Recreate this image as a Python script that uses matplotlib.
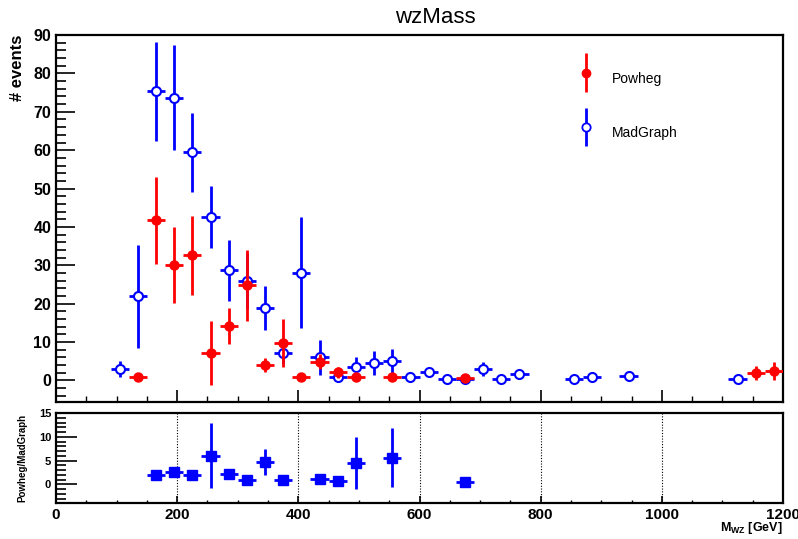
#!/usr/bin/env python3
import numpy as np
import matplotlib
matplotlib.use('Agg')
import matplotlib.pyplot as plt
from matplotlib.ticker import MultipleLocator
from matplotlib.container import ErrorbarContainer
from matplotlib.legend_handler import HandlerErrorbar

plt.rcParams['font.family'] = ['Liberation Sans', 'DejaVu Sans']
plt.rcParams['mathtext.fontset'] = 'custom'
plt.rcParams['mathtext.rm'] = 'Liberation Sans'
plt.rcParams['mathtext.bf'] = 'Liberation Sans:bold'

# bin half width (GeV)
half_bin = 15

pow_x = [135, 165, 195, 225, 255, 285, 315, 345, 375, 405, 435, 465, 495, 555, 675, 1155, 1185]
pow_y = [1.0, 41.7, 30.1, 32.6, 7.2, 14.3, 24.8, 4.0, 9.7, 0.9, 4.9, 2.1, 0.9, 0.9, 0.7, 2.0, 2.5]
pow_err = [0.3, 11.3, 10.0, 10.2, 8.4, 4.7, 9.2, 1.9, 6.3, 0.3, 2.0, 1.5, 0.3, 0.3, 0.8, 1.9, 2.3]

mg_x = [105, 135, 165, 195, 225, 255, 285, 315, 345, 375, 405, 435, 465, 495, 525, 555,
        585, 615, 645, 675, 705, 735, 765, 855, 885, 945, 1125]
mg_y = [3.0, 21.9, 75.4, 73.7, 59.5, 42.6, 28.7, 26.0, 18.8, 7.1, 28.1, 6.0, 1.0, 3.6, 4.6, 5.1,
        0.8, 2.2, 0.5, 0.4, 3.0, 0.3, 1.7, 0.3, 0.8, 1.1, 0.4]
mg_err = [2.1, 13.5, 12.9, 13.7, 10.3, 8.0, 8.0, 7.3, 5.7, 2.9, 14.4, 4.6, 0.8, 2.6, 3.1, 3.1,
          0.3, 1.0, 0.3, 0.3, 1.8, 0.2, 0.8, 0.2, 0.4, 0.5, 0.3]

ratio_x = [165, 195, 225, 255, 285, 315, 345, 375, 435, 465, 495, 555, 675]
ratio_y = [1.9, 2.6, 1.9, 6.0, 2.1, 1.0, 4.7, 0.9, 1.2, 0.75, 4.5, 5.6, 0.5]
ratio_err = [0.4, 0.6, 0.4, 6.8, 0.5, 0.4, 2.8, 0.4, 0.8, 0.4, 5.5, 6.2, 0.3]

grid_x = [200, 400, 600, 800, 1000]


def style_axis(ax, ymaj, ymin, ylen, xlen):
    for s in ax.spines.values():
        s.set_linewidth(1.6)
    ax.yaxis.set_major_locator(MultipleLocator(ymaj))
    ax.yaxis.set_minor_locator(MultipleLocator(ymin))
    ax.xaxis.set_major_locator(MultipleLocator(200))
    ax.xaxis.set_minor_locator(MultipleLocator(50))
    ax.tick_params(axis='y', which='major', direction='in', length=ylen, width=1.2)
    ax.tick_params(axis='y', which='minor', direction='in', length=ylen / 2, width=1.2)
    ax.tick_params(axis='x', which='major', direction='in', length=xlen, width=1.2)
    ax.tick_params(axis='x', which='minor', direction='in', length=xlen / 2, width=1.0)
    ax.tick_params(top=False, right=False)


fig = plt.figure(figsize=(7.98, 5.39), dpi=100)
ax = fig.add_axes([0.0702, 0.2542, 0.911, 0.6808])
axr = fig.add_axes([0.0702, 0.0668, 0.911, 0.1670])

mg = ax.errorbar(mg_x, mg_y, xerr=half_bin, yerr=mg_err, fmt='o', color='#0000ff',
                 mfc='white', mec='#0000ff', mew=1.5, ms=6.5, elinewidth=2, capsize=0,
                 label='MadGraph', zorder=3)
pw = ax.errorbar(pow_x, pow_y, xerr=half_bin, yerr=pow_err, fmt='o', color='#ff0000',
                 ms=6.5, elinewidth=2, capsize=0, label='Powheg', zorder=4)

ax.set_xlim(0, 1200)
ax.set_ylim(-5.6, 90)
style_axis(ax, 10, 2, 14, 8.5)
ax.tick_params(axis='x', labelbottom=False)
for lab in ax.get_yticklabels():
    lab.set_fontweight('bold')
    lab.set_fontsize(11.5)
ax.set_ylabel('# events', fontsize=12, fontweight='bold', labelpad=4)
ax.yaxis.set_label_coords(-0.043, 0.91)

# legend (Powheg first, MadGraph second), vertical bars only
p_leg = ax.errorbar([np.nan], [np.nan], yerr=[1], fmt='o', color='#ff0000', ms=6,
                    elinewidth=2, capsize=0)
m_leg = ax.errorbar([np.nan], [np.nan], yerr=[1], fmt='o', color='#0000ff', mfc='white',
                    mec='#0000ff', mew=1.3, ms=6, elinewidth=2, capsize=0)
ax.legend([p_leg, m_leg], ['Powheg', 'MadGraph'], loc='upper left',
          bbox_to_anchor=(0.719, 0.923), frameon=False, fontsize=10,
          handlelength=1.0, handleheight=3.0, labelspacing=1.7, handletextpad=1.37,
          borderpad=0, borderaxespad=0,
          handler_map={ErrorbarContainer: HandlerErrorbar(yerr_size=1.4)})

fig.text(0.546, 0.968, 'wzMass', fontsize=16, ha='center', va='center')

# ratio panel
for gx in grid_x:
    axr.axvline(gx, color='black', ls=(0, (1, 1.5)), lw=0.8, zorder=1)
axr.errorbar(ratio_x, ratio_y, xerr=half_bin, yerr=ratio_err, fmt='s', color='#0000ff',
             ms=6.5, elinewidth=2, capsize=0, zorder=3)
axr.set_xlim(0, 1200)
axr.set_ylim(-3.9, 15)
style_axis(axr, 5, 1, 15, 5)
for lab in axr.get_yticklabels():
    lab.set_fontweight('bold')
    lab.set_fontsize(8)
for lab in axr.get_xticklabels():
    lab.set_fontweight('bold')
    lab.set_fontsize(11)
axr.set_ylabel('Powheg/MadGraph', fontsize=7, fontweight='bold')
axr.yaxis.set_label_coords(-0.04, 0.5)
axr.set_xlabel(r'M$_{\mathbf{WZ}}$ [GeV]', fontsize=9, fontweight='bold')
axr.xaxis.set_label_coords(1.0, -0.19)
axr.xaxis.label.set_horizontalalignment('right')

fig.savefig('out.png', dpi=100)
